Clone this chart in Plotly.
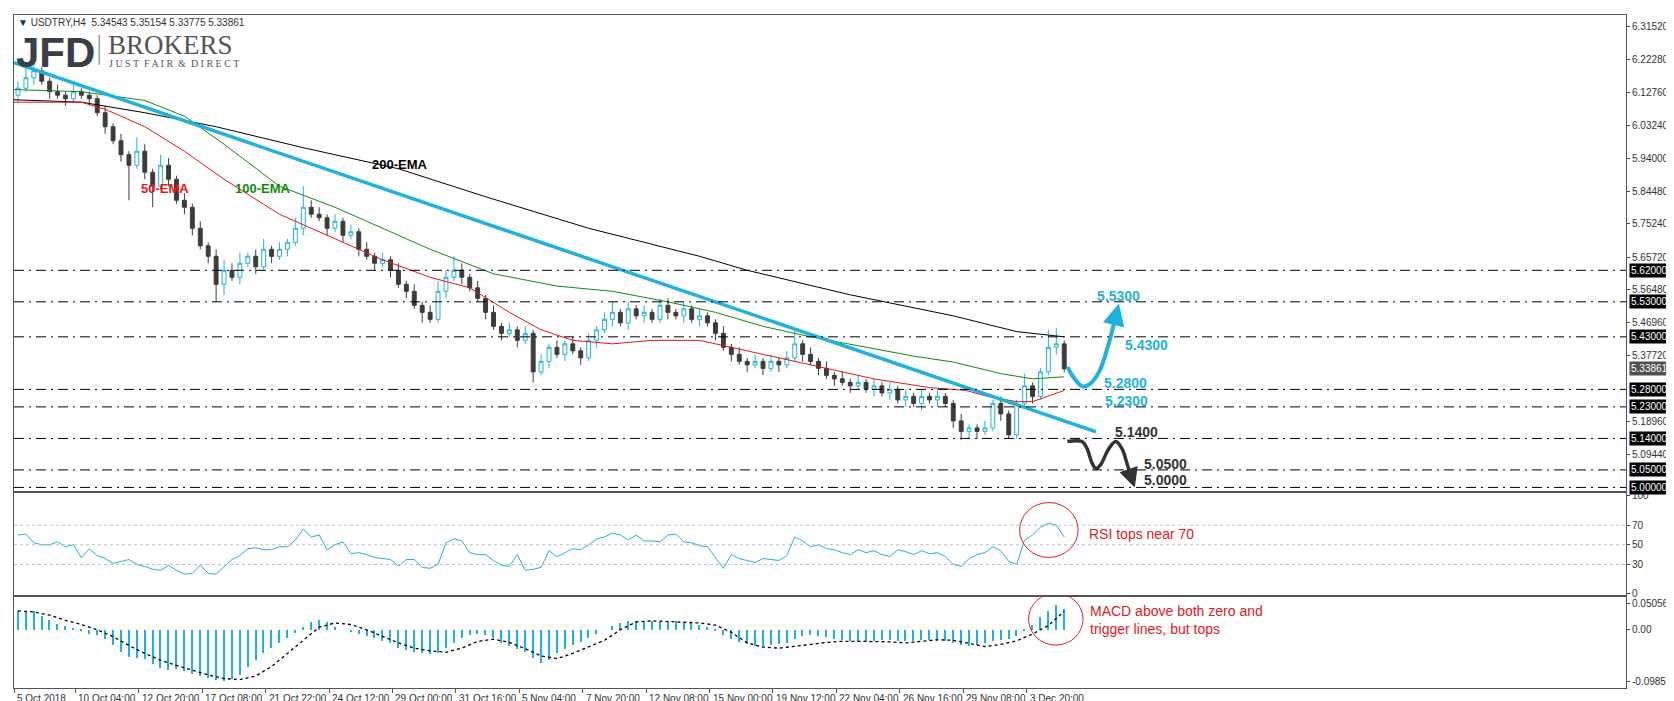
import plotly.graph_objects as go
from plotly.subplots import make_subplots

# ---------------- data ----------------
closes = [6.14,6.17,6.19,6.16,6.13,6.12,6.11,6.13,6.12,6.11,
          6.07,6.03,5.99,5.95,5.92,
          5.96,5.90,5.86,5.92,5.88,5.82,5.80,
          5.74,5.69,5.66,5.58,5.62,
          5.60,5.64,5.66,5.63,5.68,5.66,5.68,5.70,
          5.74,5.80,5.78,
          5.77,5.74,5.76,5.72,5.73,
          5.68,5.66,5.64,5.65,5.62,
          5.58,5.56,5.52,5.50,5.48,
          5.56,5.60,5.62,5.60,5.57,
          5.54,5.50,5.46,5.44,5.45,5.42,5.44,
          5.33,5.36,5.40,5.38,5.41,5.39,5.37,5.42,5.45,
          5.48,5.50,5.47,5.51,5.49,5.50,5.48,5.52,5.50,5.49,5.51,5.48,5.49,5.47,
          5.44,5.40,5.38,5.36,5.35,5.36,
          5.34,5.36,5.35,5.37,5.41,5.38,5.36,
          5.34,5.32,5.31,5.30,5.29,5.30,
          5.28,5.29,5.27,5.28,5.25,5.26,5.24,5.26,5.25,5.26,5.24,
          5.19,5.16,5.17,5.16,5.17,
          5.24,5.21,5.15,5.24,
          5.29,5.26,5.33,5.40,5.41,5.33861]
first_open = 6.12
wick_up = [.02,.03,.02,.01,.01,.02,.01,.02,.01,.01,
           .01,.02,.01,.02,.01,
           .04,.02,.01,.03,.02,.01,.02,
           .01,.02,.01,.02,.03,
           .02,.03,.01,.02,.03,.01,.02,.01,
           .03,.06,.02,
           .02,.01,.02,.01,.02,
           .01,.02,.01,.02,.01,
           .02,.01,.02,.01,.02,
           .03,.02,.04,.02,.01,
           .02,.01,.02,.01,.02,.01,.02,
           .01,.02,.01,.02,.01,.02,.01,.02,.01,
           .02,.03,.01,.02,.01,.02,.01,.02,.02,.01,.02,.01,.02,.01,
           .01,.02,.01,.02,.01,.02,
           .01,.02,.01,.02,.04,.01,.02,
           .01,.02,.01,.02,.01,.02,
           .01,.02,.01,.02,.01,.02,.01,.02,.01,.02,.01,
           .01,.02,.01,.01,.02,
           .01,.02,.01,.01,
           .035,.01,.01,.05,.045,.01]
wick_dn = [.02,.01,.02,.01,.02,.01,.02,.01,.01,.02,
           .01,.02,.01,.02,.10,
           .01,.02,.06,.01,.02,.01,.02,
           .02,.01,.02,.05,.03,
           .01,.02,.01,.02,.01,.02,.01,.02,
           .01,.02,.01,
           .01,.02,.01,.02,.01,
           .02,.01,.02,.01,.02,
           .01,.02,.01,.03,.01,
           .01,.02,.01,.02,.01,
           .01,.02,.01,.02,.01,.02,.01,
           .03,.01,.02,.01,.02,.01,.02,.01,.02,
           .01,.02,.01,.02,.01,.02,.01,.01,.02,.01,.02,.01,.02,.01,
           .02,.01,.02,.01,.02,.01,
           .02,.01,.02,.01,.01,.02,.01,
           .02,.01,.02,.01,.02,.01,
           .01,.02,.01,.02,.01,.02,.01,.02,.01,.02,.01,
           .02,.025,.02,.02,.01,
           .01,.02,.01,.01,
           .01,.02,.01,.01,.02,.01]

ema200_x = [-0.5, 8, 16, 25, 36, 48, 59, 72, 86, 92, 105, 118, 126, 132]
ema200_y = [6.107, 6.10, 6.07, 6.03, 5.97, 5.91, 5.83, 5.74, 5.66, 5.62, 5.55, 5.49, 5.445, 5.43]
ema100_x = [-0.5, 8, 16, 21, 26, 33, 40, 46, 52, 60, 68, 75, 82, 88, 94, 100, 107, 113, 118, 124, 128, 132]
ema100_y = [6.136, 6.13, 6.105, 6.06, 5.98, 5.86, 5.80, 5.74, 5.68, 5.61, 5.575, 5.56, 5.53, 5.50, 5.46, 5.43, 5.40, 5.375, 5.358, 5.325, 5.31, 5.316]
ema50_x = [-0.5, 8, 11, 16, 21, 26, 33, 40, 46, 52, 57, 62, 66, 70, 75, 80, 86, 92, 100, 108, 115, 119.6, 122.5, 126, 128, 132]
ema50_y = [6.10, 6.10, 6.08, 6.03, 5.96, 5.88, 5.78, 5.71, 5.65, 5.60, 5.57, 5.50, 5.45, 5.42, 5.41, 5.42, 5.42, 5.39, 5.35, 5.31, 5.285, 5.277, 5.259, 5.245, 5.245, 5.277]
trend_x = [-0.5, 136]
trend_y = [6.213, 5.159]

levels = [5.62, 5.53, 5.43, 5.28, 5.23, 5.14, 5.05, 5.00]
price_ticks = [6.3152, 6.2228, 6.1276, 6.0324, 5.94, 5.8448, 5.7524, 5.6572, 5.5648, 5.4696, 5.3772, 5.1896, 5.0944]
last_price = 5.33861

rsi = [60,61,52,50,50,53,48,50,37,46,39,36,31,33,35,30,28,25,24,29,24,20,21,29,21,20,27,35,39,46,
       47,45,45,48,48,55,66,58,60,45,50,53,41,42,40,37,36,35,28,35,35,27,26,30,52,56,54,42,40,40,
       34,29,28,40,24,25,27,44,38,42,46,45,50,56,58,62,60,55,60,54,54,53,60,61,53,52,49,48,37,26,
       40,36,34,32,36,35,34,39,58,54,48,50,46,45,42,40,45,42,44,40,38,45,43,40,44,41,42,38,30,28,
       36,40,42,48,44,33,30,55,60,68,72,70,58]
macd = [.036,.036,.036,.026,.019,.011,.007,.003,-.002,-.008,-.011,-.019,-.03,-.042,-.053,-.055,-.057,-.066,-.073,-.078,
        -.076,-.08,-.085,-.089,-.092,-.097,-.099,-.095,-.087,-.072,-.058,-.045,-.035,-.025,-.016,-.007,.005,.015,.018,.015,
        .005,.0,-.005,-.008,-.012,-.017,-.022,-.026,-.035,-.04,-.042,-.044,-.046,-.045,-.036,-.025,-.017,-.01,-.008,-.01,
        -.016,-.025,-.032,-.037,-.042,-.055,-.063,-.058,-.045,-.038,-.03,-.024,-.016,-.008,0,.007,.013,.016,.017,.017,
        .016,.015,.015,.016,.015,.012,.009,.005,-.002,-.01,-.018,-.024,-.028,-.031,-.032,-.03,-.028,-.025,-.018,
        -.012,-.01,-.012,-.015,-.018,-.02,-.022,-.022,-.021,-.021,-.02,-.02,-.021,-.021,-.021,-.02,-.02,-.021,-.022,
        -.026,-.03,-.031,-.03,-.026,-.021,-.02,-.018,-.012,-.003,.008,.024,.036,.046,.04]
signal_x = list(range(0, 133, 2))
signal = [.036,.034,.028,.018,.01,.0,-.013,-.03,-.045,-.058,-.068,-.077,-.086,-.093,-.095,-.088,-.07,-.045,-.02,.005,
          .013,.01,0,-.013,-.025,-.035,-.04,-.043,-.035,-.022,-.018,-.024,-.036,-.05,-.055,-.045,-.033,-.02,.0,.015,
          .017,.016,.015,.013,.009,-.005,-.025,-.033,-.035,-.032,-.028,-.024,-.022,-.022,-.022,-.023,-.025,-.022,-.019,-.02,
          -.026,-.032,-.028,-.021,-.008,.008,.035]

tick_pos = [-0.5] + [7.25 + 8 * k for k in range(16)]
tick_text = ["5 Oct 2018", "10 Oct 04:00", "12 Oct 20:00", "17 Oct 08:00", "21 Oct 22:00", "24 Oct 12:00",
             "29 Oct 00:00", "31 Oct 16:00", "5 Nov 04:00", "7 Nov 20:00", "12 Nov 08:00", "15 Nov 00:00",
             "19 Nov 12:00", "22 Nov 04:00", "26 Nov 16:00", "29 Nov 08:00", "3 Dec 20:00"]

up_curve_x = [132.4, 133.25, 134.25, 135.1, 136.4, 137.6, 138.3]
up_curve_y = [5.344, 5.312, 5.289, 5.293, 5.33, 5.41, 5.47]
up_tip = (138.9, 5.525)
dn_curve_x = [132.4, 134.25, 134.9, 135.5, 136.0, 136.6, 137.6, 138.5, 139.3, 139.9, 140.3]
dn_curve_y = [5.131, 5.131, 5.11, 5.07, 5.054, 5.065, 5.11, 5.131, 5.11, 5.07, 5.04]
dn_tip = (140.9, 5.0)

fc_labels = [("5.5300", 138.9, 5.546, "#1fb2de"), ("5.4300", 142.4, 5.407, "#1fb2de"),
             ("5.2800", 139.75, 5.299, "#1fb2de"), ("5.2300", 139.9, 5.248, "#1fb2de"),
             ("5.1400", 141.1, 5.159, "#333333"), ("5.0500", 144.75, 5.068, "#333333"),
             ("5.0000", 144.75, 5.020, "#333333")]

# ---------------- figure ----------------
N = len(closes)
opens = [first_open] + closes[:-1]
highs = [max(o, c) + w for o, c, w in zip(opens, closes, wick_up)]
lows = [min(o, c) - w for o, c, w in zip(opens, closes, wick_dn)]
xs = list(range(N))

W, H = 1674, 701
L, R, T, B = 5, 42, 5, 21
ph = H - T - B
fig = make_subplots(rows=3, cols=1, shared_xaxes=True, vertical_spacing=2 / ph,
                    row_heights=[477, 103, 91])

BLUE = "#1fb2de"
DARK = "#3c3c3c"
fig.add_trace(go.Candlestick(x=xs, open=opens, high=highs, low=lows, close=closes,
                             increasing=dict(line=dict(color=BLUE, width=1), fillcolor="white"),
                             decreasing=dict(line=dict(color=DARK, width=1), fillcolor=DARK),
                             whiskerwidth=0, hoverinfo="skip"), row=1, col=1)
fig.add_trace(go.Scatter(x=ema200_x, y=ema200_y, mode="lines", line=dict(color="black", width=1)), row=1, col=1)
fig.add_trace(go.Scatter(x=ema100_x, y=ema100_y, mode="lines", line=dict(color="#128a12", width=1)), row=1, col=1)
fig.add_trace(go.Scatter(x=ema50_x, y=ema50_y, mode="lines", line=dict(color="#ee1111", width=1)), row=1, col=1)
fig.add_trace(go.Scatter(x=trend_x, y=trend_y, mode="lines", line=dict(color=BLUE, width=3.5)), row=1, col=1)
fig.add_trace(go.Scatter(x=up_curve_x, y=up_curve_y, mode="lines", line=dict(color=BLUE, width=4, shape="spline")), row=1, col=1)
fig.add_trace(go.Scatter(x=dn_curve_x, y=dn_curve_y, mode="lines", line=dict(color="#333333", width=3.5, shape="spline")), row=1, col=1)

fig.add_trace(go.Scatter(x=xs, y=rsi, mode="lines", line=dict(color=BLUE, width=1)), row=2, col=1)
fig.add_trace(go.Bar(x=xs, y=macd, width=0.18, marker=dict(color=BLUE, line=dict(width=0))), row=3, col=1)
fig.add_trace(go.Scatter(x=signal_x, y=signal, mode="lines", line=dict(color="black", width=1.3, dash="dot")), row=3, col=1)

xr = [-0.5, -0.5 + (W - L - R) / 8]
axfont = dict(family="Liberation Sans", size=10, color="#333")
for r in (1, 2, 3):
    fig.update_xaxes(range=xr, showgrid=False, zeroline=False, showline=True, mirror=True,
                     linecolor="#555", linewidth=1, rangeslider_visible=False, row=r, col=1,
                     showticklabels=False, ticks="")
fig.update_xaxes(tickvals=tick_pos, ticks="outside", ticklen=4, tickcolor="#555", row=3, col=1)

fig.update_yaxes(range=[4.991, 6.349], side="right", tickvals=price_ticks,
                 ticktext=[f"{v:.5f}" for v in price_ticks], ticks="outside", ticklen=3,
                 showgrid=False, zeroline=False, showline=True, mirror=True, linecolor="#555",
                 tickfont=axfont, row=1, col=1)
fig.update_yaxes(range=[-1.5, 103.3], side="right", tickvals=[0, 30, 50, 70, 100],
                 ticks="outside", ticklen=3, showgrid=False, zeroline=False, showline=True,
                 mirror=True, linecolor="#555", tickfont=axfont, row=2, col=1)
fig.update_yaxes(range=[-0.111, 0.062], side="right", tickvals=[0.050564, 0, -0.098574],
                 ticktext=["0.050564", "0.00", "-0.098574"], ticks="outside", ticklen=3,
                 showgrid=False, zeroline=False, showline=True, mirror=True, linecolor="#555",
                 tickfont=axfont, row=3, col=1)

shapes = []
for lv in levels:
    shapes.append(dict(type="line", xref="x domain", yref="y", x0=0, x1=1, y0=lv, y1=lv,
                       line=dict(color="black", width=1, dash="10px,5px,2px,5px")))
for lv in (30, 50, 70):
    shapes.append(dict(type="line", xref="x2 domain", yref="y2", x0=0, x1=1, y0=lv, y1=lv,
                       line=dict(color="#bbbbbb", width=1, dash="3px,3px")))
def px2i(px):
    return (px - 9) / 8
shapes.append(dict(type="circle", xref="x2", yref="y2", x0=px2i(1020), x1=px2i(1079),
                   y0=(587 - 549) / 0.983 - 1.5, y1=(587 - 494) / 0.983 - 1.5,
                   line=dict(color="#e02020", width=1)))
shapes.append(dict(type="circle", xref="x3", yref="y3", x0=px2i(1029), x1=px2i(1084),
                   y0=0.062 - (637 - 589) * 0.0019, y1=0.062 - (585 - 589) * 0.0019,
                   line=dict(color="#e02020", width=1)))

ann = []
for lv in levels:
    ann.append(dict(xref="paper", yref="y", x=1.0, y=lv, xanchor="left", yanchor="middle",
                    text=f"{lv:.5f}", showarrow=False, bgcolor="black", font=dict(family="Liberation Sans", size=10, color="white"),
                    borderpad=1, xshift=3))
ann.append(dict(xref="paper", yref="y", x=1.0, y=last_price, xanchor="left", yanchor="middle",
                text=f"{last_price:.5f}", showarrow=False, bgcolor="#505050",
                font=dict(family="Liberation Sans", size=10, color="white"), borderpad=1, xshift=3))
for t, x in zip(tick_text, tick_pos):
    ann.append(dict(xref="x3", yref="paper", x=x, y=0, yshift=-3, xanchor="left", yanchor="top",
                    text=t, showarrow=False, font=axfont, xshift=1))
for t, x, y, c in fc_labels:
    ann.append(dict(xref="x", yref="y", x=x, y=y, text=f"<b>{t}</b>", showarrow=False,
                    font=dict(family="Liberation Sans", size=14, color=c)))
ann.append(dict(xref="x", yref="y", x=up_tip[0], y=up_tip[1], ax=up_curve_x[-1], ay=up_curve_y[-1],
                axref="x", ayref="y", text="", showarrow=True, arrowhead=2, arrowsize=1.1,
                arrowwidth=4, arrowcolor=BLUE))
ann.append(dict(xref="x", yref="y", x=dn_tip[0], y=dn_tip[1], ax=dn_curve_x[-1], ay=dn_curve_y[-1],
                axref="x", ayref="y", text="", showarrow=True, arrowhead=2, arrowsize=1.1,
                arrowwidth=3.5, arrowcolor="#333333"))
ann += [
    dict(xref="x", yref="y", x=48.2, y=5.922, text="<b>200-EMA</b>", showarrow=False,
         font=dict(family="Liberation Sans", size=13, color="black")),
    dict(xref="x", yref="y", x=18.6, y=5.854, text="<b>50-EMA</b>", showarrow=False,
         font=dict(family="Liberation Sans", size=13, color="#ee1111")),
    dict(xref="x", yref="y", x=30.9, y=5.854, text="<b>100-EMA</b>", showarrow=False,
         font=dict(family="Liberation Sans", size=13, color="#128a12")),
    dict(xref="x2", yref="y2", x=px2i(1088), y=(587 - 526) / 0.983 - 1.5, xanchor="left",
         text="RSI tops near 70", showarrow=False, font=dict(family="Liberation Sans", size=14, color="#e02020")),
    dict(xref="x3", yref="y3", x=px2i(1089), y=0.062 - (612 - 589) * 0.0019, xanchor="left",
         text="MACD above both zero and<br>trigger lines, but tops", align="left", showarrow=False,
         font=dict(family="Liberation Sans", size=14, color="#e02020")),
    dict(xref="paper", yref="paper", x=0.0, y=1.0, xanchor="left", yanchor="top", xshift=2, yshift=0,
         text="▼ USDTRY,H4  5.34543 5.35154 5.33775 5.33861", showarrow=False,
         font=dict(family="Liberation Sans", size=10, color="#333")),
    dict(xref="paper", yref="paper", x=0.0, y=1.0, xanchor="left", yanchor="top", xshift=0, yshift=-12,
         text="<b>JFD</b>", showarrow=False, font=dict(family="Liberation Sans", size=42, color="#3a3f47")),
    dict(xref="paper", yref="paper", x=0.0, y=1.0, xanchor="left", yanchor="top", xshift=92, yshift=-13,
         text="BROKERS", showarrow=False, font=dict(family="Liberation Serif", size=27, color="#555")),
    dict(xref="paper", yref="paper", x=0.0, y=1.0, xanchor="left", yanchor="top", xshift=93, yshift=-41,
         text="J U S T  F A I R  &  D I R E C T", showarrow=False, font=dict(family="Liberation Serif", size=10, color="#555")),
]
shapes.append(dict(type="line", xref="paper", yref="paper", x0=86 / (W - L - R), x1=86 / (W - L - R),
                   y0=1 - 20 / ph, y1=1 - 50 / ph, line=dict(color="#999", width=1.5)))

fig.update_layout(width=W, height=H, margin=dict(l=L, r=R, t=T, b=B), showlegend=False,
                  paper_bgcolor="white", plot_bgcolor="white", shapes=shapes, annotations=ann,
                  bargap=0)
fig.write_html("out.html")
